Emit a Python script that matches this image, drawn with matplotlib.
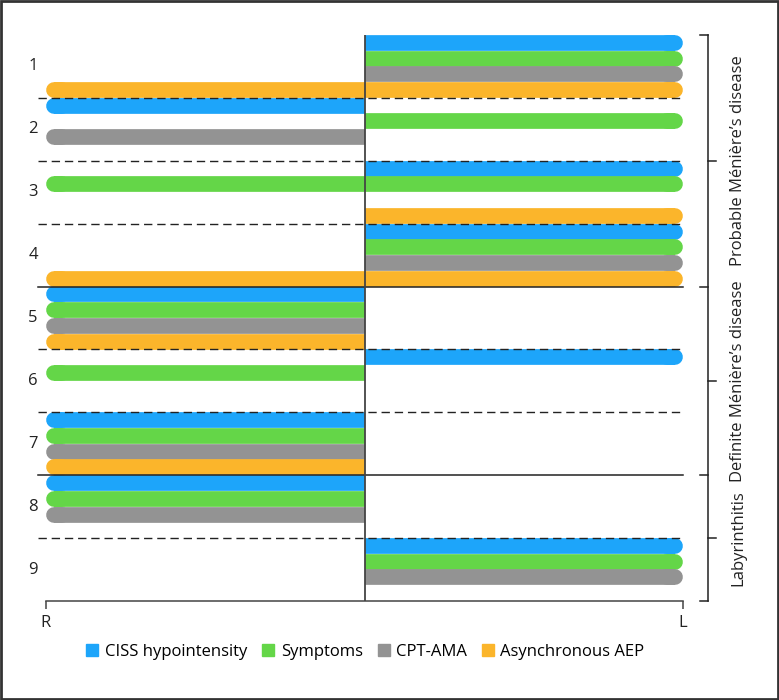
"""
Side-by-side presence chart: findings per patient, right (R) vs left (L) ear
"""
import matplotlib
matplotlib.use('Agg')
import matplotlib.pyplot as plt
from matplotlib.lines import Line2D
from matplotlib.patches import Rectangle
import matplotlib.transforms as mtransforms

plt.rcParams['font.family'] = ['Open Sans', 'DejaVu Sans']

patients = ['1', '2', '3', '4', '5', '6', '7', '8', '9']
categories = ['CISS hypointensity', 'Symptoms', 'CPT-AMA', 'Asynchronous AEP']
colors = ['#1da5fa', '#64d648', '#939393', '#fbb52b']

# presence (1) per patient, right ear (drawn to the left)
ciss_R = [0, 1, 0, 0, 1, 0, 1, 1, 0]
sym_R = [0, 0, 1, 0, 1, 1, 1, 1, 0]
cpt_R = [0, 1, 0, 0, 1, 0, 1, 1, 0]
aep_R = [1, 0, 0, 1, 1, 0, 1, 0, 0]

# presence (1) per patient, left ear (drawn to the right)
ciss_L = [1, 0, 1, 1, 0, 1, 0, 0, 1]
sym_L = [1, 1, 1, 1, 0, 0, 0, 0, 1]
cpt_L = [1, 0, 0, 1, 0, 0, 0, 0, 1]
aep_L = [1, 0, 1, 1, 0, 0, 0, 0, 0]

groups = ["Probable Ménière’s disease", "Definite Ménière’s disease",
          'Labyrinthitis']
group_sizes = [4, 3, 2]

side_labels = ['R', 'L']


def main():
    W, H = 779, 700
    fig = plt.figure(figsize=(W / 100., H / 100.), dpi=100)
    # axes box in pixels
    x0, x1 = 46., 683.
    y_top, y_bot = 35., 601.
    ax = fig.add_axes([x0 / W, (H - y_bot) / H, (x1 - x0) / W,
                       (y_bot - y_top) / H])

    n_slots = len(patients) * len(categories)
    ax.set_xlim(-1, 1)
    ax.set_ylim(n_slots, 0)

    px_per_x = (x1 - x0) / 2.
    slot_px = (y_bot - y_top) / n_slots
    lw = slot_px * 72. / 100.
    r = (slot_px / 2.) / px_per_x

    right_ear = [ciss_R, sym_R, cpt_R, aep_R]
    left_ear = [ciss_L, sym_L, cpt_L, aep_L]

    # square end at the midline, rounded end at the outside
    for k in range(len(categories)):
        for p in range(len(patients)):
            yc = 4 * p + k + 0.5
            for side, ear in [(-1, right_ear), (1, left_ear)]:
                if not ear[k][p]:
                    continue
                end = side * (1 - r)
                ax.plot([0, end], [yc, yc], color=colors[k], lw=lw,
                        solid_capstyle='butt', zorder=2)
                ax.plot([end - side * r, end], [yc, yc], color=colors[k],
                        lw=lw, solid_capstyle='round', zorder=2)

    # separators between patients
    bounds = []
    acc = 0
    for g in group_sizes:
        acc += g
        bounds.append(acc)
    xl = -1 - 8. / px_per_x
    for p in range(1, len(patients)):
        yb = 4 * p
        if p in bounds:
            ax.plot([xl, 1], [yb, yb], color='#222222', lw=1.1, zorder=3,
                    clip_on=False)
        else:
            ax.plot([xl, 1], [yb, yb], color='#222222', lw=1.0, zorder=3,
                    ls=(0, (6, 3.5)), clip_on=False)

    ax.axvline(0, color='#444444', lw=1.3, zorder=4)

    # patient labels
    trans = mtransforms.blended_transform_factory(ax.transAxes, ax.transData)
    for p, lab in enumerate(patients):
        ax.text(-13. / (x1 - x0), 4 * p + 2, lab, transform=trans,
                ha='center', va='center', fontsize=12, color='#222222')

    # right-hand bracket with group labels
    bx = (708. - x0) / (x1 - x0)
    tl = 8. / (x1 - x0)
    bk = dict(color='#222222', lw=1.1, transform=trans, clip_on=False)
    ax.plot([bx, bx], [0, n_slots], **bk)
    start = 0
    edges = [0]
    for g, name in zip(group_sizes, groups):
        mid = (start + g / 2.) * 4
        ax.plot([bx, bx + tl], [mid, mid], **bk)
        ax.text((738. - x0) / (x1 - x0), mid, name, transform=trans,
                rotation=90, ha='center', va='center', fontsize=12,
                color='#222222')
        start += g
        edges.append(start * 4)
    for e in edges:
        ax.plot([bx - tl, bx], [e, e], **bk)

    # axes styling
    for s in ['top', 'right', 'left']:
        ax.spines[s].set_visible(False)
    ax.spines['bottom'].set_color('#444444')
    ax.spines['bottom'].set_linewidth(1.1)
    ax.set_yticks([])
    ax.set_xticks([-1, 1])
    ax.set_xticklabels(side_labels, fontsize=12, color='#222222')
    ax.tick_params(axis='x', direction='out', length=6, width=1.1,
                   color='#444444', pad=4)

    handles = [Line2D([], [], ls='none', marker='s', markersize=8,
                      markerfacecolor=c, markeredgecolor=c) for c in colors]
    fig.legend(handles, categories, loc='center',
               bbox_to_anchor=(365.5 / W, (H - 652.) / H), ncol=4,
               frameon=False, fontsize=12, handlelength=0.7,
               handletextpad=0.4, columnspacing=0.9)

    fig.add_artist(Rectangle((0.0015, 0.0015), 0.997, 0.997,
                             transform=fig.transFigure, fill=False,
                             edgecolor='#333333', lw=2))

    fig.savefig('out.png', dpi=100)
    return


if __name__ == '__main__':
    main()
